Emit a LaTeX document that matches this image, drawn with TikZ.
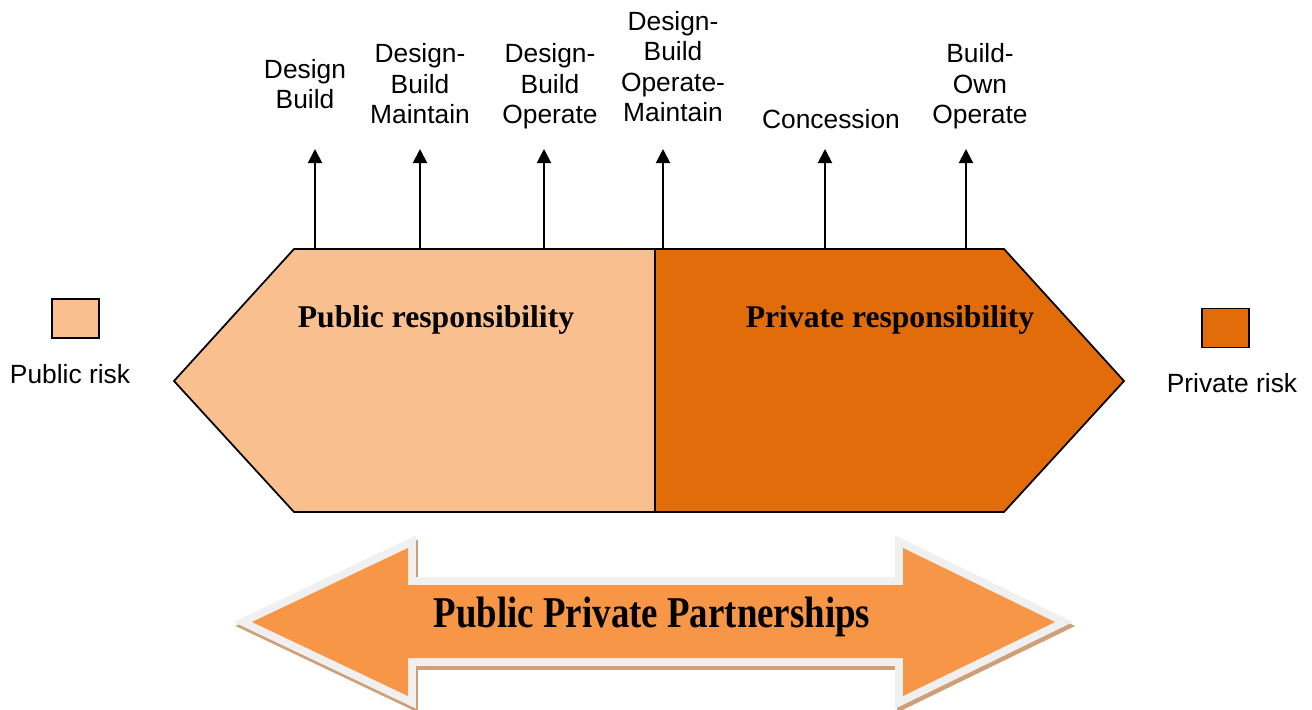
\documentclass[tikz,border=0pt]{standalone}
\usepackage{fontspec}
\setmainfont{Liberation Serif}
\setsansfont{Liberation Sans}
\usetikzlibrary{arrows.meta,positioning}
\definecolor{pubOrange}{RGB}{250,191,143}
\definecolor{privOrange}{RGB}{227,108,10}
\definecolor{pppOrange}{RGB}{247,150,70}
\definecolor{pppRim}{RGB}{240,240,240}
\definecolor{pppShadow}{RGB}{205,160,120}

\begin{document}
\begin{tikzpicture}[x=0.02cm, y=-0.02cm,
        zone/.style={draw=black, line width=1pt, line join=miter},
        model/.style={font=\sffamily\fontsize{15}{17.3}\selectfont, align=center,
          anchor=south, inner sep=0pt, text depth=4pt},
        pick/.style={draw=black, line width=1.1pt, -{Triangle[width=8pt,length=8pt]}},
        key/.style={draw=black, line width=1pt, minimum width=0.94cm,
          minimum height=0.78cm, inner sep=0pt},
        keytext/.style={font=\sffamily\fontsize{15}{18}\selectfont, inner sep=0pt},
        headline/.style={font=\bfseries\fontsize{18}{21}\selectfont, inner sep=0pt, anchor=base},
      ]
        \useasboundingbox (0,0) rectangle (1312,710);

        % responsibility band
        \fill[pubOrange] (174,381) -- (294,249) -- (655,249) -- (655,512) -- (294,512) -- cycle;
        \fill[privOrange] (655,249) -- (1004,249) -- (1124,381) -- (1004,512) -- (655,512) -- cycle;
        \draw[zone] (174,381) -- (294,249) -- (1004,249) -- (1124,381) -- (1004,512) -- (294,512) -- cycle;
        \draw[zone] (655,249) -- (655,512);
        \node[headline] (pubtext) at (436,327) {Public responsibility};
        \node[headline] (privtext) at (890,327) {Private responsibility};

        % delivery models
        \node[model] (db) at (305,116) {Design\\Build};
        \node[model] (dbm) at (420,131) {Design-\\Build\\Maintain};
        \node[model] (dbo) at (550,131) {Design-\\Build\\Operate};
        \node[model] (dbom) at (673,129) {Design-\\Build\\Operate-\\Maintain};
        \node[model] (conc) at (831,136) {Concession};
        \node[model] (boo) at (980,131) {Build-\\Own\\Operate};
        \foreach \name/\xx in {db/315, dbm/420, dbo/544, dbom/663, conc/825, boo/966} {
          \coordinate (\name-foot) at (\xx,249);
          \coordinate (\name-tip) at (\xx,149);
          \draw[pick] (\name-foot) -- (\name-tip);
        }

        % legend
        \node[key, fill=pubOrange] (pubkey) at (75.5,318.5) {};
        \node[keytext] (pubkeytext) at (70,374) {Public risk};
        \node[key, fill=privOrange] (privkey) at (1225.5,328) {};
        \node[keytext] (privkeytext) at (1232,383) {Private risk};

        % partnership arrow
        \def\pppshape{(252,622) -- (408,548) -- (408,585) -- (903,585) -- (903,548) -- (1055,622)
          -- (903,696) -- (903,658) -- (408,658) -- (408,696) -- cycle}
        \filldraw[pppShadow, line width=9pt, line join=miter, shift={(2,4)}] \pppshape;
        \filldraw[pppRim, line width=9pt, line join=miter] \pppshape;
        \fill[pppOrange] \pppshape;
        \node[font=\bfseries\fontsize{25}{30}\selectfont, inner sep=0pt, anchor=base] (ppptext)
          at (652,627) {\scalebox{0.84}[1]{Public Private Partnerships}};
      \end{tikzpicture}
\end{document}
